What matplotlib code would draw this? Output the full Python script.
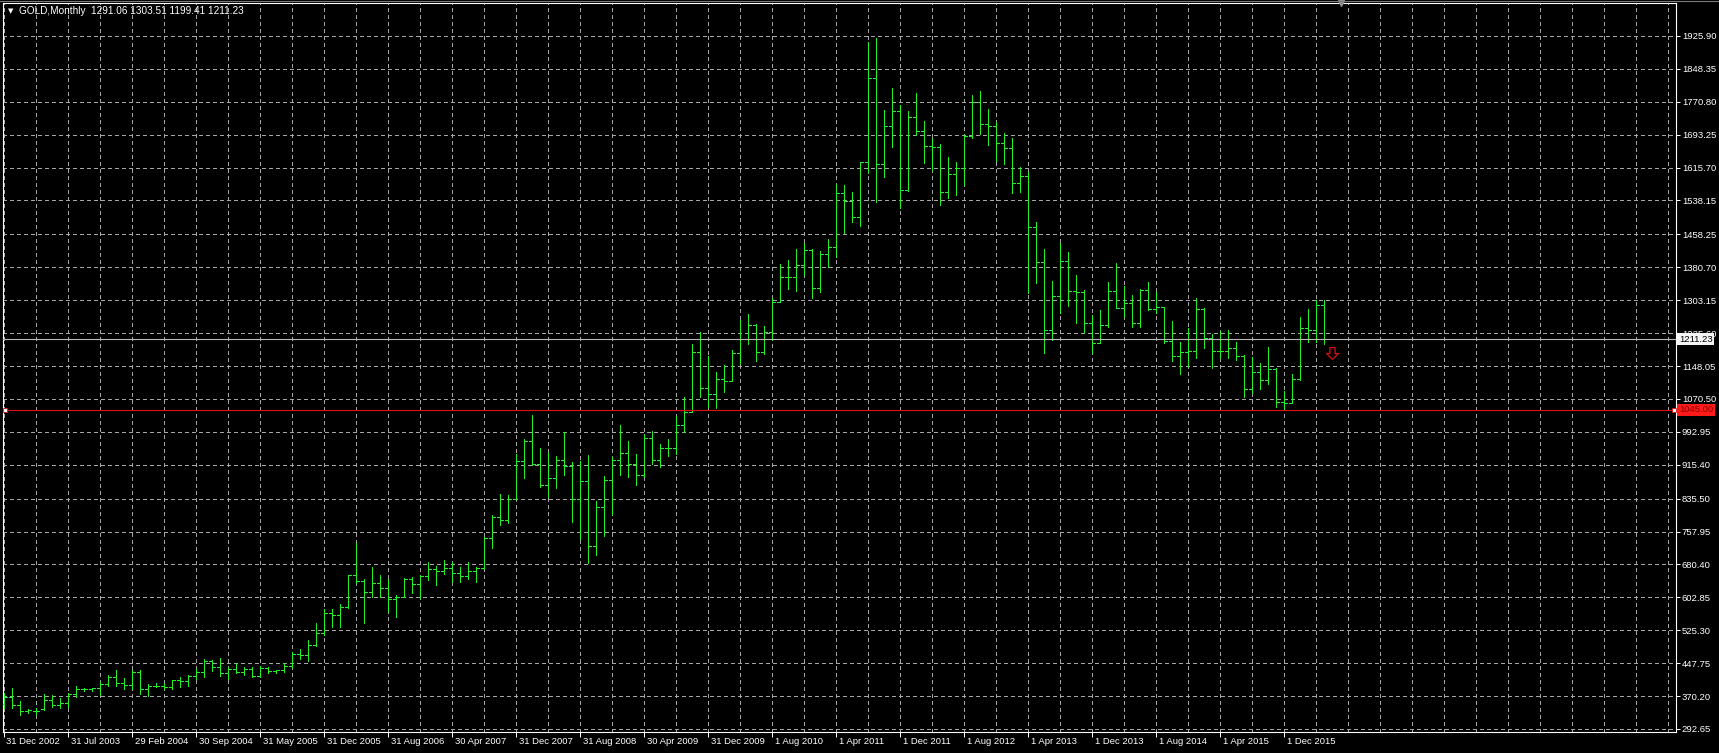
import matplotlib
matplotlib.use("Agg")
import matplotlib.pyplot as plt
from matplotlib.collections import LineCollection
from matplotlib.lines import Line2D
from matplotlib.path import Path
from matplotlib.transforms import ScaledTranslation, blended_transform_factory

plt.rcParams['font.family'] = ['Liberation Sans', 'DejaVu Sans']

# monthly bars (one bar per slot, 8 px apart)
opens = [352, 368, 350, 336, 335, 339, 362, 350, 355, 375,
         386, 386, 389, 399, 416, 402, 397, 426, 388, 394,
         395, 392, 407, 405, 418, 428, 453, 438, 424, 435,
         428, 435, 417, 436, 429, 432, 440, 470, 467, 490,
         518, 565, 561, 581, 655, 642, 615, 636, 626, 598,
         604, 646, 634, 653, 669, 666, 672, 660, 653, 666,
         673, 743, 792, 785, 834, 925, 972, 916, 868, 885,
         926, 912, 834, 877, 725, 816, 880, 927, 942, 916,
         891, 979, 927, 954, 955, 1008, 1040, 1182, 1097, 1083,
         1118, 1113, 1179, 1212, 1245, 1181, 1228, 1300, 1357, 1358,
         1385, 1421, 1333, 1411, 1429, 1556, 1536, 1500, 1628, 1826,
         1624, 1714, 1748, 1564, 1734, 1703, 1667, 1664, 1559, 1600,
         1614, 1690, 1770, 1718, 1714, 1673, 1661, 1579, 1596, 1475,
         1393, 1234, 1313, 1396, 1326, 1323, 1250, 1202, 1244, 1326,
         1284, 1296, 1250, 1327, 1282, 1287, 1208, 1171, 1182, 1184,
         1283, 1213, 1183, 1184, 1190, 1172, 1095, 1133, 1115, 1142,
         1064, 1061, 1117, 1238, 1233, 1291.06]
highs = [378, 390, 358, 340, 341, 375, 373, 366, 378, 394,
         389, 390, 404, 420, 432, 412, 432, 432, 398, 400,
         402, 408, 414, 420, 433, 457, 455, 461, 439, 447,
         439, 438, 440, 439, 432, 449, 475, 480, 502, 542,
         575, 575, 587, 656, 730, 645, 674, 656, 645, 608,
         648, 650, 656, 687, 677, 692, 687, 674, 687, 675,
         746, 797, 846, 844, 941, 975, 1033, 954, 942, 936,
         992, 921, 925, 938, 830, 890, 934, 1010, 971, 940,
         988, 996, 965, 975, 1030, 1074, 1200, 1229, 1172, 1135,
         1151, 1185, 1256, 1270, 1248, 1242, 1308, 1388, 1398, 1423,
         1437, 1423, 1418, 1447, 1577, 1575, 1559, 1630, 1912, 1921,
         1751, 1803, 1763, 1748, 1791, 1726, 1685, 1671, 1641, 1630,
         1693, 1787, 1797, 1753, 1724, 1697, 1685, 1618, 1606, 1487,
         1424, 1348, 1437, 1416, 1363, 1327, 1268, 1280, 1346, 1392,
         1337, 1315, 1329, 1347, 1323, 1288, 1255, 1205, 1237, 1308,
         1284, 1223, 1231, 1233, 1205, 1174, 1170, 1156, 1194, 1143,
         1088, 1129, 1264, 1282, 1304, 1303.51]
lows = [341, 341, 325, 330, 329, 337, 345, 343, 345, 369,
        383, 381, 373, 395, 395, 388, 387, 375, 370, 392,
        388, 387, 391, 395, 410, 416, 430, 417, 410, 424,
        420, 414, 414, 425, 425, 428, 436, 457, 454, 488,
        514, 534, 534, 578, 636, 542, 603, 603, 569, 557,
        603, 612, 601, 644, 632, 658, 640, 640, 645, 640,
        669, 718, 773, 777, 834, 883, 915, 864, 840, 860,
        891, 780, 741, 684, 703, 747, 800, 891, 887, 868,
        887, 917, 910, 935, 940, 992, 1040, 1076, 1051, 1049,
        1086, 1113, 1153, 1200, 1160, 1176, 1210, 1300, 1330, 1326,
        1363, 1308, 1323, 1382, 1406, 1461, 1488, 1478, 1602, 1535,
        1594, 1665, 1520, 1560, 1693, 1627, 1610, 1528, 1543, 1551,
        1575, 1685, 1696, 1669, 1631, 1624, 1555, 1559, 1319, 1343,
        1179, 1209, 1272, 1289, 1250, 1225, 1178, 1202, 1241, 1284,
        1263, 1241, 1239, 1280, 1272, 1203, 1161, 1129, 1147, 1166,
        1190, 1143, 1168, 1166, 1162, 1076, 1085, 1095, 1106, 1052,
        1046, 1060, 1115, 1205, 1205, 1199.41]
closes = [368, 350, 336, 337, 336, 362, 350, 355, 375, 386,
          386, 389, 399, 416, 402, 397, 426, 388, 394, 395,
          392, 407, 405, 418, 428, 453, 438, 424, 435, 428,
          435, 417, 436, 429, 432, 440, 470, 467, 490, 518,
          565, 561, 581, 655, 642, 615, 636, 626, 598, 604,
          646, 634, 653, 669, 666, 672, 660, 653, 666, 673,
          743, 792, 785, 834, 925, 972, 916, 868, 885, 926,
          912, 834, 877, 725, 816, 880, 927, 942, 916, 891,
          979, 927, 954, 955, 1008, 1040, 1182, 1097, 1083, 1118,
          1113, 1179, 1212, 1245, 1181, 1228, 1300, 1357, 1358, 1385,
          1421, 1333, 1411, 1429, 1556, 1536, 1500, 1628, 1826, 1624,
          1714, 1748, 1564, 1734, 1703, 1667, 1664, 1559, 1600, 1614,
          1690, 1770, 1718, 1714, 1673, 1661, 1579, 1596, 1475, 1393,
          1234, 1313, 1396, 1326, 1323, 1250, 1202, 1244, 1326, 1284,
          1296, 1250, 1327, 1282, 1287, 1208, 1171, 1182, 1184, 1283,
          1213, 1183, 1184, 1190, 1172, 1095, 1133, 1115, 1142, 1064,
          1061, 1117, 1238, 1233, 1291, 1211.23]

price_ticks = [292.65, 370.20, 447.75, 525.30, 602.85, 680.40, 757.95,
               835.50, 915.40, 992.95, 1070.50, 1148.05, 1225.60, 1303.15,
               1380.70, 1458.25, 1538.15, 1615.70, 1693.25, 1770.80,
               1848.35, 1925.90]
date_labels = ['31 Dec 2002', '31 Jul 2003', '29 Feb 2004', '30 Sep 2004',
               '31 May 2005', '31 Dec 2005', '31 Aug 2006', '30 Apr 2007',
               '31 Dec 2007', '31 Aug 2008', '30 Apr 2009', '31 Dec 2009',
               '1 Aug 2010', '1 Apr 2011', '1 Dec 2011', '1 Aug 2012',
               '1 Apr 2013', '1 Dec 2013', '1 Aug 2014', '1 Apr 2015',
               '1 Dec 2015']
date_pos = [8 * k for k in range(len(date_labels))]

level_price = 1045.00
bid_price = 1211.23
signal_price = 1179
signal_bar = 166
title = 'GOLD,Monthly  1291.06 1303.51 1199.41 1211.23'

W, H = 1719, 753
fig = plt.figure(figsize=(W / 100, H / 100), dpi=100, facecolor='black')
ax = fig.add_axes([3 / W, 21.3 / H, 1673 / W, 728.4 / H])
ax.set_facecolor('black')

grid_col = '#a6a6a6'
green = '#22f022'

# bars: high-low line, open tick left, close tick right
segs = []
for i in range(len(opens)):
    segs.append([(i, lows[i]), (i, highs[i])])
    segs.append([(i - 0.4, opens[i]), (i, opens[i])])
    segs.append([(i, closes[i]), (i + 0.4, closes[i])])
ax.add_collection(LineCollection(segs, colors=green, linewidths=0.6,
                                 antialiaseds=False, zorder=3))

ax.set_xlim(-0.09, 209)
ax.set_ylim(286.2, 2002.9)

# grid
ax.set_xticks(date_pos)
ax.set_xticks(range(0, 210, 4), minor=True)
ax.grid(True, which='both', axis='x', color=grid_col, lw=0.6,
        linestyle=(0, (4, 4)), antialiased=False)
ax.yaxis.tick_right()
ax.set_yticks(price_ticks)
ax.set_yticklabels([f'{v:.2f}' for v in price_ticks])
ax.grid(True, which='major', axis='y', color=grid_col, lw=0.6,
        linestyle=(0, (4, 4)), antialiased=False)
ax.set_axisbelow(True)

ax.set_xticklabels(date_labels)
ax.tick_params(axis='x', which='major', colors='white', length=3.5,
               width=0.72, pad=0.5, labelsize=6.8)
ax.tick_params(axis='x', which='minor', length=0)
ax.tick_params(axis='y', colors='white', length=3, width=0.72, pad=1.2,
               labelsize=6.8)
off = ScaledTranslation(2 / 72, 0, fig.dpi_scale_trans)
for lab in ax.get_xticklabels():
    lab.set_horizontalalignment('left')
    lab.set_transform(lab.get_transform() + off)

for s in ax.spines.values():
    s.set_color('white')
    s.set_linewidth(0.8)

# level line at 1045 with end handles
ax.axhline(level_price, color='#e01010', lw=0.8, zorder=4)
ax.plot([0.1, 208.7], [level_price, level_price], 's', ms=2.6,
        mfc='white', mec='#e01010', mew=0.6, zorder=5, clip_on=False)

# bid line
ax.axhline(bid_price, color='#b8b8b8', lw=0.8, zorder=4)

trans = blended_transform_factory(ax.transAxes, ax.transData)
ax.annotate(f'{bid_price:.2f}', xy=(1, bid_price), xycoords=trans,
            xytext=(2.2, 0), textcoords='offset points', va='center',
            ha='left', fontsize=6.8, color='black', zorder=10,
            annotation_clip=False,
            bbox=dict(boxstyle='square,pad=0.18', fc='#f4f4f4', ec='none'))
ax.annotate(f'{level_price:.2f}', xy=(1, level_price), xycoords=trans,
            xytext=(2.2, 0), textcoords='offset points', va='center',
            ha='left', fontsize=6.8, color='#8a0000', zorder=10,
            annotation_clip=False,
            bbox=dict(boxstyle='square,pad=0.18', fc='#ff1a1a', ec='none'))

# sell arrow (hollow down arrow)
arrow = Path([(-0.22, 0.5), (0.22, 0.5), (0.22, 0.0), (0.5, 0.0),
              (0.0, -0.5), (-0.5, 0.0), (-0.22, 0.0), (-0.22, 0.5)],
             [Path.MOVETO] + [Path.LINETO] * 6 + [Path.CLOSEPOLY])
ax.plot([signal_bar], [signal_price], marker=arrow, ms=8.5, mfc='none',
        mec='#d81010', mew=0.9, zorder=6)

# chart shift marker
ax.plot([167.1], [1.0], marker='v', ms=4, color='#8c8c8c',
        transform=blended_transform_factory(ax.transData, ax.transAxes),
        clip_on=False, zorder=6)

# window header
fig.add_artist(Line2D([0, 1], [1 - 0.8 / H] * 2, color='#7a7a7a', lw=0.8))
fig.text(8 / W, 1 - 11 / H, '\u25bc', color='white', fontsize=5,
         va='center', ha='left', family='DejaVu Sans')
fig.text(19 / W, 1 - 11 / H, title, color='white', fontsize=7.2,
         va='center', ha='left')

fig.savefig('out.png', dpi=100, facecolor='black')
